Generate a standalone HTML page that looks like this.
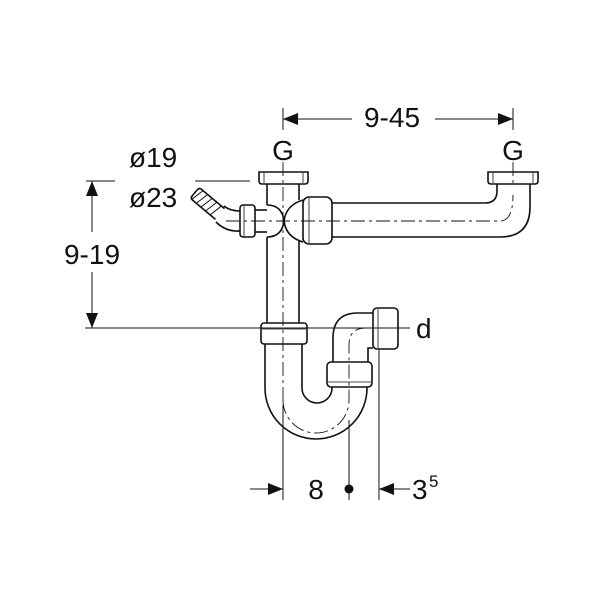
<!DOCTYPE html>
<html><head><style>
html,body{margin:0;padding:0;background:#fff;width:600px;height:600px;overflow:hidden}
svg{display:block}
text{font-family:"Liberation Sans",Arial,sans-serif;fill:#111}
</style></head><body>
<svg width="600" height="600" viewBox="0 0 600 600" xmlns="http://www.w3.org/2000/svg">
<g fill="none" stroke="#111" stroke-width="1.6">
<!-- dimension 9-45 -->
<line x1="283" y1="108" x2="283" y2="130" stroke-width="1"/>
<line x1="513" y1="108" x2="513" y2="130" stroke-width="1"/>
<line x1="283" y1="119" x2="352" y2="119" stroke-width="1"/>
<line x1="435" y1="119" x2="513" y2="119" stroke-width="1"/>
<!-- left 9-19 -->
<line x1="86" y1="181" x2="115" y2="181" stroke-width="1"/>
<line x1="195" y1="181" x2="250" y2="181" stroke-width="1"/>
<line x1="92" y1="181" x2="92" y2="232" stroke-width="1"/>
<line x1="92" y1="272" x2="92" y2="328" stroke-width="1"/>
<line x1="85" y1="328" x2="410" y2="328" stroke-width="1"/>
<!-- left flange & vertical pipe -->
<path d="M259 172 H308 V181 Q308 184 305 184 H262 Q259 184 259 181 Z"/>
<line x1="264" y1="173" x2="264" y2="183" stroke-width="0.8"/>
<line x1="303" y1="173" x2="303" y2="183" stroke-width="0.8"/>
<line x1="267" y1="184" x2="267" y2="205"/>
<line x1="299" y1="184" x2="299" y2="200"/>
<line x1="267" y1="237" x2="267" y2="323"/>
<line x1="299" y1="240" x2="299" y2="323"/>
<!-- tee bulges -->
<path d="M267 205 Q282 205 284 221 Q282 237 267 237"/>
<path d="M303 200 Q286 205 284 221 Q286 237 303 242"/>
<!-- left fitting -->
<rect x="240" y="205" width="15" height="32" rx="3"/>
<line x1="255" y1="210" x2="267" y2="210"/>
<line x1="255" y1="232" x2="267" y2="232"/>
<line x1="244" y1="205" x2="244" y2="237" stroke-width="0.8"/>
<path d="M240 211 Q230 211 224 206 M240 231 Q226 232 216 222"/>
<g transform="translate(220 214) rotate(40)">
<path d="M0 -7 H-30 Q-33 -7 -33 -4 V4 Q-33 7 -30 7 H0"/>
<path d="M-4 -7 l-3 14 M-10 -7 l-3 14 M-16 -7 l-3 14 M-22 -7 l-3 14 M-28 -7 l-3 14" stroke-width="1"/>
</g>
<!-- coupling nut on horizontal -->
<rect x="303" y="197" width="29" height="47" rx="6"/>
<line x1="309" y1="198" x2="309" y2="243" stroke-width="0.8"/>
<!-- horizontal pipe & bend -->
<path d="M332 203 H485 Q497 203 497 191 V184"/>
<path d="M332 237 H500 Q530 237 530 207 V184"/>
<!-- right flange -->
<path d="M488 172 H538 V181 Q538 184 535 184 H491 Q488 184 488 181 Z"/>
<line x1="493" y1="173" x2="493" y2="183" stroke-width="0.8"/>
<line x1="533" y1="173" x2="533" y2="183" stroke-width="0.8"/>
<!-- nut on vertical -->
<rect x="261" y="323" width="46" height="21" rx="3"/>
<line x1="262" y1="329" x2="306" y2="329" stroke-width="0.8"/>
<!-- U bend -->
<path d="M265 344 V388 A51 51 0 0 0 367 388 V387"/>
<path d="M302 344 V388 A15 15 0 0 0 332 388 V387"/>
<!-- nut on riser -->
<rect x="327" y="362" width="45" height="25" rx="4"/>
<line x1="328" y1="382" x2="371" y2="382" stroke-width="0.8"/>
<!-- elbow to outlet -->
<path d="M333 362 V338 Q333 313 358 313 H373"/>
<path d="M368 362 V348 H373"/>
<rect x="373" y="308" width="25" height="41" rx="4"/>
<line x1="378" y1="309" x2="378" y2="348" stroke-width="0.8"/>
<!-- bottom dimension -->
<line x1="283" y1="405" x2="283" y2="500" stroke-width="1"/>
<line x1="349" y1="420" x2="349" y2="500" stroke-width="1"/>
<line x1="379" y1="349" x2="379" y2="500" stroke-width="1"/>
<line x1="250" y1="489" x2="283" y2="489" stroke-width="1"/>
<line x1="379" y1="489" x2="410" y2="489" stroke-width="1"/>
</g>
<!-- center lines -->
<g fill="none" stroke="#111" stroke-width="0.9" stroke-dasharray="14 4 3 4">
<line x1="283" y1="162" x2="283" y2="405"/>
<line x1="513" y1="162" x2="513" y2="185"/>
<path d="M226 221 H500 Q513 221 513 195"/>
<path d="M283 400 A33 33 0 0 0 349 400 V345 Q349 328 366 328 H395"/>
</g>
<!-- arrowheads -->
<g fill="#111">
<polygon points="283,119 298,113 298,125"/>
<polygon points="513,119 498,113 498,125"/>
<polygon points="92,181 86,196 98,196"/>
<polygon points="92,328 86,313 98,313"/>
<polygon points="283,489 268,483 268,495"/>
<polygon points="379,489 394,483 394,495"/>
<circle cx="349" cy="489" r="4.5"/>
</g>
<g font-size="28">
<text x="392" y="127" text-anchor="middle">9-45</text>
<text x="283" y="160" text-anchor="middle">G</text>
<text x="513" y="160" text-anchor="middle">G</text>
<text x="129" y="167">ø19</text>
<text x="129" y="207">ø23</text>
<text x="92" y="264" text-anchor="middle">9-19</text>
<text x="416" y="338">d</text>
<text x="316" y="499" text-anchor="middle">8</text>
<text x="412" y="499">3</text>
</g>
<text x="429" y="487" font-size="17">5</text>
</svg>
</body></html>
